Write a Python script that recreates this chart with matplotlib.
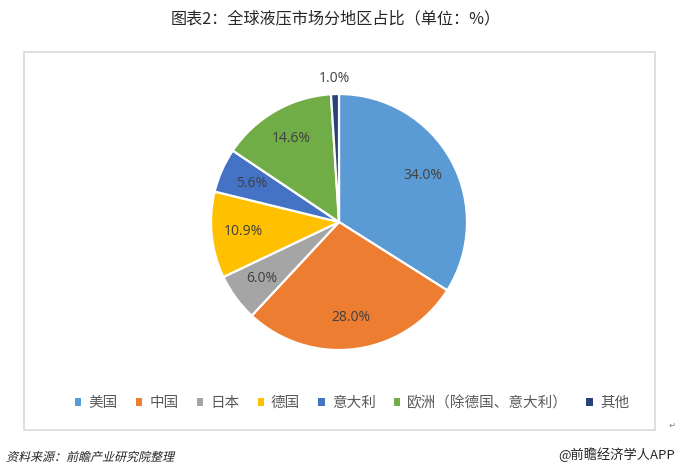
import matplotlib
matplotlib.use("Agg")
import matplotlib.pyplot as plt
from matplotlib.patches import Rectangle, Patch, PathPatch
from matplotlib.textpath import TextPath
from matplotlib.font_manager import FontProperties
from matplotlib.transforms import Affine2D
import numpy as np

plt.rcParams['font.family'] = ['Noto Sans CJK SC', 'DejaVu Sans']

# 各地区占比（%）
regions = ["美国", "中国", "日本", "德国", "意大利", "欧洲（除德国、意大利）", "其他"]
shares = [34.0, 28.0, 6.0, 10.9, 5.6, 14.6, 1.0]
colors = ["#5B9BD5", "#ED7D31", "#A5A5A5", "#FFC000", "#4472C4", "#70AD47", "#264478"]

title = "图表2：全球液压市场分地区占比（单位：%）"
source = "资料来源：前瞻产业研究院整理"
credit = "@前瞻经济学人APP"

W, H = 680, 475
fig = plt.figure(figsize=(W / 100, H / 100), dpi=100)

# 图表外框
frame = Rectangle((24 / W, 1 - 430 / H), (655 - 24) / W, (430 - 52) / H,
                  transform=fig.transFigure, fill=False, edgecolor="#D9D9D9", linewidth=1.2)
fig.patches.append(frame)

fig.text(336 / W, 1 - 19 / H, title, ha="center", va="center", fontsize=11.6, color="#262626")

# 饼图
cx, cy, r = 339, 222, 128
ax = fig.add_axes([(cx - r) / W, (H - cy - r) / H, 2 * r / W, 2 * r / H])
wedges, _ = ax.pie(shares, colors=colors, startangle=90, counterclock=False,
                   wedgeprops=dict(edgecolor="white", linewidth=1.6))
ax.set_xlim(-1, 1)
ax.set_ylim(-1, 1)
ax.set_aspect("auto")
ax.axis("off")

for w, v in zip(wedges, shares):
    ang = np.deg2rad((w.theta1 + w.theta2) / 2)
    d = 0.75 if v >= 3 else 1.12
    ax.text(d * np.cos(ang), d * np.sin(ang), f"{v:.1f}%", ha="center", va="center",
            fontsize=10, color="#404040", family=["Open Sans", "DejaVu Sans"])

# 图例
handles = [Patch(facecolor=c, edgecolor="none") for c in colors]
fig.legend(handles, regions, loc="center", bbox_to_anchor=(352 / W, 1 - 403 / H), ncol=7,
           frameon=False, fontsize=10.5, handlelength=0.42, handleheight=0.42,
           handletextpad=0.5, columnspacing=1.25, labelcolor="#595959")

fig.text(672 / W, 1 - 425 / H, "↵", fontsize=6, color="#808080", ha="center", va="center",
         family="DejaVu Sans")

# 资料来源（斜体效果）
fp = FontProperties(family="Noto Sans CJK SC")
tp = TextPath((0, 0), source, size=12, prop=fp)
tr = Affine2D().skew_deg(14, 0).translate(6, H - 461)
fig.patches.append(PathPatch(tr.transform_path(tp), transform=None,
                             facecolor="#262626", edgecolor="none", figure=fig))

fig.text(675 / W, 1 - 455 / H, credit, ha="right", va="center", fontsize=9.5, color="#262626")

fig.savefig("out.png", dpi=100, facecolor="white")
